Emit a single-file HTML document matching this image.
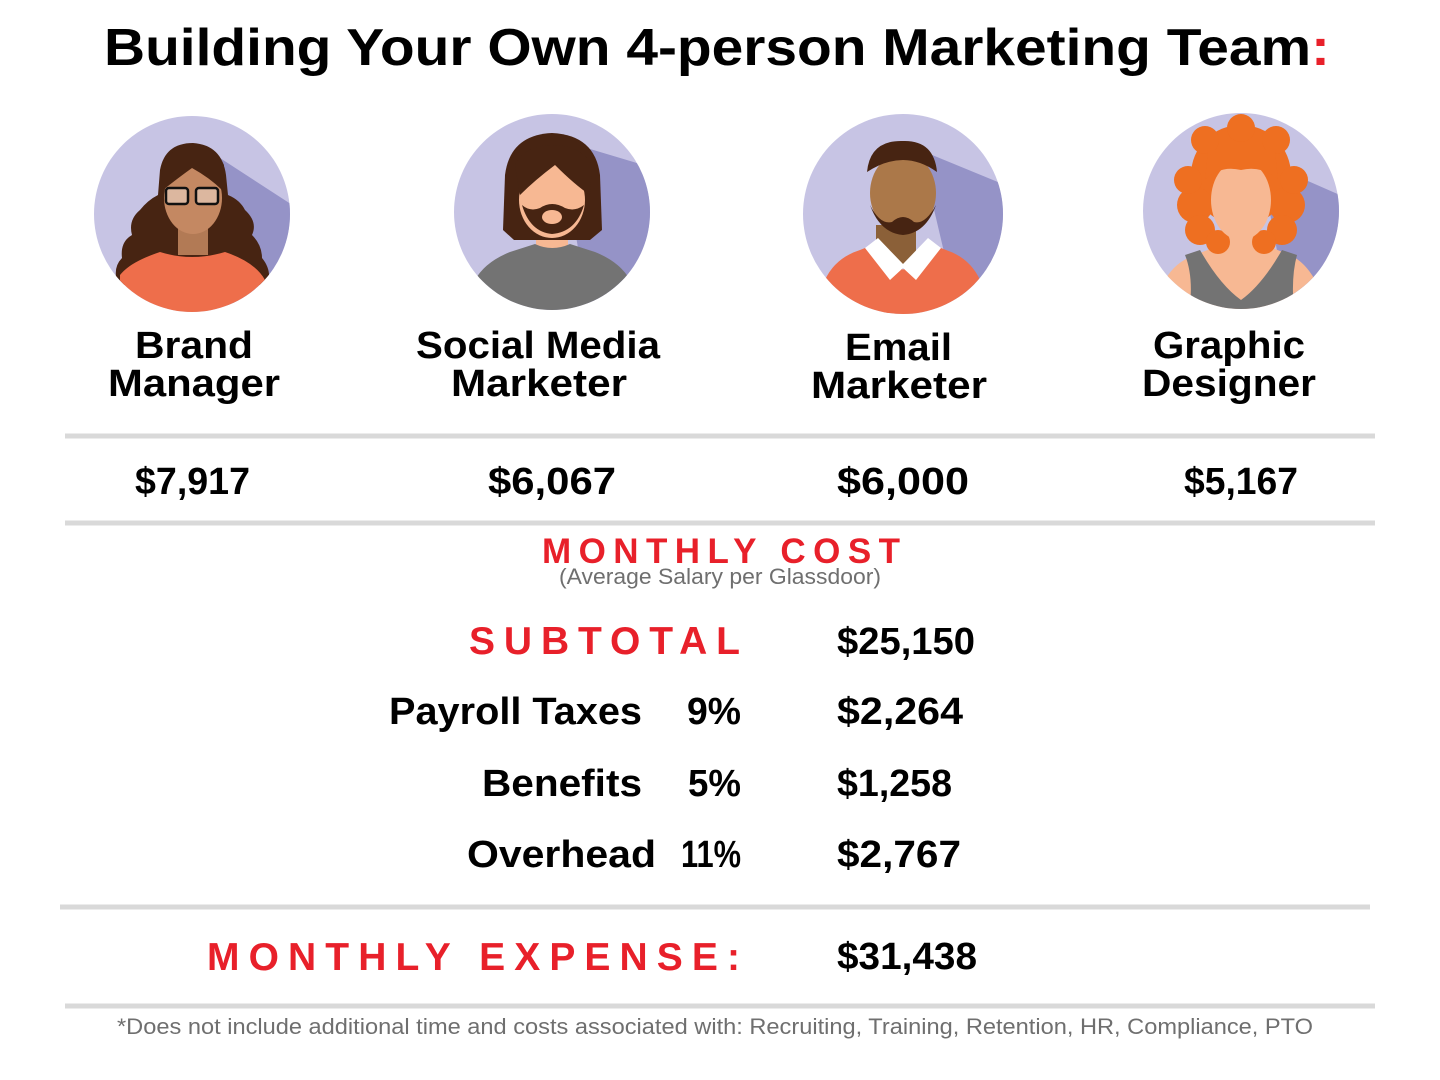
<!DOCTYPE html>
<html><head><meta charset="utf-8"><style>html,body{margin:0;padding:0;background:#fff}svg{display:block}</style></head>
<body>
<svg width="1440" height="1080" viewBox="0 0 1440 1080" xmlns="http://www.w3.org/2000/svg">
<defs>
<clipPath id="c1"><ellipse cx="192" cy="214" rx="98" ry="98"/></clipPath>
<clipPath id="c2"><ellipse cx="552" cy="212" rx="98" ry="98"/></clipPath>
<clipPath id="c3"><ellipse cx="903" cy="214" rx="100" ry="100"/></clipPath>
<clipPath id="c4"><ellipse cx="1241" cy="211" rx="98" ry="98"/></clipPath>
</defs>
<g font-family="Liberation Sans, sans-serif" font-weight="bold" fill="#000">
<text x="104" y="65" font-size="52" textLength="1226" lengthAdjust="spacingAndGlyphs">Building Your Own 4-person Marketing Team<tspan fill="#e8202a">:</tspan></text>
</g>

<!-- Avatar 1 -->
<g clip-path="url(#c1)">
<rect x="90" y="110" width="210" height="210" fill="#c7c4e4"/>
<polygon points="200,145 300,210 300,320 230,320" fill="#9593c7"/>
<path d="M160,170 Q165,143 193,143 Q222,145 226,175 L228,195 Q240,200 245,210 Q258,222 252,235 Q262,245 262,258 Q272,270 268,285 L118,285 Q112,268 122,258 Q120,242 132,235 Q128,220 140,210 Q148,200 158,195 Z" fill="#472412"/>
<rect x="178" y="220" width="30" height="35" fill="#b27a55"/>
<ellipse cx="193" cy="198" rx="29" ry="36" fill="#c48862"/>
<path d="M163,190 Q178,178 192,168 Q210,178 222,190 L224,165 Q215,146 193,146 Q168,148 162,168 Z" fill="#472412"/>
<rect x="166" y="188" width="22" height="16" rx="3" fill="#dcb79f" stroke="#111" stroke-width="2.5"/>
<rect x="196" y="188" width="22" height="16" rx="3" fill="#dcb79f" stroke="#111" stroke-width="2.5"/>
<path d="M120,320 L120,275 Q130,262 160,252 Q192,262 225,252 Q255,262 265,280 L265,320 Z" fill="#ee6e4b"/>
</g>

<!-- Avatar 2 -->
<g clip-path="url(#c2)">
<rect x="450" y="110" width="210" height="210" fill="#c7c4e4"/>
<polygon points="560,140 660,170 660,320 590,320" fill="#9593c7"/>
<rect x="536" y="225" width="32" height="30" fill="#f7b893"/>
<path d="M475,320 L475,280 Q485,262 510,252 L535,244 Q552,252 570,244 L595,252 Q620,262 630,280 L630,320 Z" fill="#737373"/>
<path d="M505,175 Q510,135 552,133 Q595,135 600,175 L602,230 L590,240 L514,240 L503,230 Z" fill="#472412"/>
<ellipse cx="552" cy="200" rx="33" ry="38" fill="#f7b893"/>
<path d="M520,195 Q535,180 555,165 Q575,185 590,195 L592,165 Q580,145 552,145 Q525,145 515,165 Z" fill="#472412"/>
<path d="M522,205 Q530,232 552,234 Q576,232 584,205 Q575,212 565,208 Q552,200 540,208 Q530,212 522,205 Z" fill="#472412"/>
<ellipse cx="552" cy="217" rx="10" ry="7" fill="#f7b893"/>
</g>

<!-- Avatar 3 -->
<g clip-path="url(#c3)">
<rect x="800" y="110" width="210" height="210" fill="#c7c4e4"/>
<polygon points="920,150 1005,185 1005,320 960,320" fill="#9593c7"/>
<rect x="876" y="225" width="40" height="40" fill="#8b6038"/>
<path d="M825,320 L825,280 Q835,258 860,250 L880,242 L903,270 L926,242 L946,250 Q970,258 980,280 L980,320 Z" fill="#ee6e4b"/>
<polygon points="865,248 878,238 903,264 928,238 941,248 916,280 903,268 890,280" fill="#fff"/>
<ellipse cx="903" cy="193" rx="33" ry="40" fill="#ab7849"/>
<path d="M867,172 Q870,140 903,141 Q934,140 937,172 Q920,160 903,160 Q885,160 867,172 Z" fill="#472412"/>
<path d="M870,205 Q880,233 903,235 Q926,233 936,205 Q925,225 914,222 Q903,212 892,222 Q880,225 870,205 Z" fill="#472412"/>
</g>

<!-- Avatar 4 -->
<g clip-path="url(#c4)">
<rect x="1140" y="110" width="210" height="210" fill="#c7c4e4"/>
<polygon points="1260,160 1340,195 1340,320 1290,320" fill="#9593c7"/>
<path d="M1165,320 L1165,280 Q1175,262 1195,255 L1220,245 L1265,245 L1290,255 Q1305,262 1315,280 L1315,320 Z" fill="#f7b893"/>
<path d="M1185,255 L1200,250 Q1220,285 1241,300 Q1262,285 1282,250 L1297,255 Q1290,280 1295,320 L1188,320 Q1195,280 1185,255 Z" fill="#737373"/>
<rect x="1225" y="220" width="32" height="30" fill="#f7b893"/>
<g fill="#ee6f21">
<circle cx="1241" cy="175" r="50"/>
<circle cx="1195" cy="205" r="18"/><circle cx="1287" cy="205" r="18"/>
<circle cx="1200" cy="230" r="15"/><circle cx="1282" cy="230" r="15"/>
<circle cx="1218" cy="242" r="12"/><circle cx="1264" cy="242" r="12"/>
<circle cx="1188" cy="180" r="14"/><circle cx="1294" cy="180" r="14"/>
<circle cx="1205" cy="140" r="14"/><circle cx="1276" cy="140" r="14"/>
<circle cx="1241" cy="128" r="14"/>
</g>
<ellipse cx="1241" cy="200" rx="30" ry="40" fill="#f7b893"/>
<path d="M1205,180 Q1220,165 1241,170 Q1262,165 1278,180 L1275,150 L1208,150 Z" fill="#ee6f21"/>
</g>

<g font-family="Liberation Sans, sans-serif" font-weight="bold" fill="#000" font-size="38">
<text x="135" y="358" textLength="118" lengthAdjust="spacingAndGlyphs">Brand</text>
<text x="108" y="396" textLength="172" lengthAdjust="spacingAndGlyphs">Manager</text>
<text x="416" y="358" textLength="244" lengthAdjust="spacingAndGlyphs">Social Media</text>
<text x="451" y="396" textLength="176" lengthAdjust="spacingAndGlyphs">Marketer</text>
<text x="845" y="360" textLength="107" lengthAdjust="spacingAndGlyphs">Email</text>
<text x="811" y="398" textLength="176" lengthAdjust="spacingAndGlyphs">Marketer</text>
<text x="1153" y="358" textLength="152" lengthAdjust="spacingAndGlyphs">Graphic</text>
<text x="1142" y="396" textLength="174" lengthAdjust="spacingAndGlyphs">Designer</text>

<text x="135" y="494" textLength="115" lengthAdjust="spacingAndGlyphs">$7,917</text>
<text x="488" y="494" textLength="128" lengthAdjust="spacingAndGlyphs">$6,067</text>
<text x="837" y="494" textLength="132" lengthAdjust="spacingAndGlyphs">$6,000</text>
<text x="1184" y="494" textLength="114" lengthAdjust="spacingAndGlyphs">$5,167</text>

<text x="837" y="654" textLength="138" lengthAdjust="spacingAndGlyphs">$25,150</text>
<text x="389" y="724" textLength="253" lengthAdjust="spacingAndGlyphs">Payroll Taxes</text>
<text x="687" y="724" textLength="54" lengthAdjust="spacingAndGlyphs">9%</text>
<text x="837" y="724" textLength="126" lengthAdjust="spacingAndGlyphs">$2,264</text>
<text x="482" y="796" textLength="160" lengthAdjust="spacingAndGlyphs">Benefits</text>
<text x="688" y="796" textLength="53" lengthAdjust="spacingAndGlyphs">5%</text>
<text x="837" y="796" textLength="115" lengthAdjust="spacingAndGlyphs">$1,258</text>
<text x="467" y="867" textLength="189" lengthAdjust="spacingAndGlyphs">Overhead</text>
<text x="681" y="867" textLength="60" lengthAdjust="spacingAndGlyphs">11%</text>
<text x="837" y="867" textLength="124" lengthAdjust="spacingAndGlyphs">$2,767</text>
<text x="837" y="969" textLength="140" lengthAdjust="spacingAndGlyphs">$31,438</text>
</g>

<g font-family="Liberation Sans, sans-serif" font-weight="bold" fill="#e8202a">
<text x="542" y="563" font-size="35" textLength="358" lengthAdjust="spacing">MONTHLY COST</text>
<text x="469" y="654" font-size="39" textLength="271" lengthAdjust="spacing">SUBTOTAL</text>
<text x="207" y="970" font-size="39" textLength="533" lengthAdjust="spacing">MONTHLY EXPENSE:</text>
</g>

<g font-family="Liberation Sans, sans-serif" fill="#6f6f6f" font-size="22">
<text x="559" y="584" textLength="322" lengthAdjust="spacingAndGlyphs">(Average Salary per Glassdoor)</text>
<text x="117" y="1034" textLength="1196" lengthAdjust="spacingAndGlyphs">*Does not include additional time and costs associated with: Recruiting, Training, Retention, HR, Compliance, PTO</text>
</g>

<g stroke="#d9d9d9" stroke-width="5">
<line x1="65" y1="436" x2="1375" y2="436"/>
<line x1="65" y1="523" x2="1375" y2="523"/>
<line x1="60" y1="907" x2="1370" y2="907"/>
<line x1="65" y1="1006" x2="1375" y2="1006"/>
</g>
</svg>
</body></html>
